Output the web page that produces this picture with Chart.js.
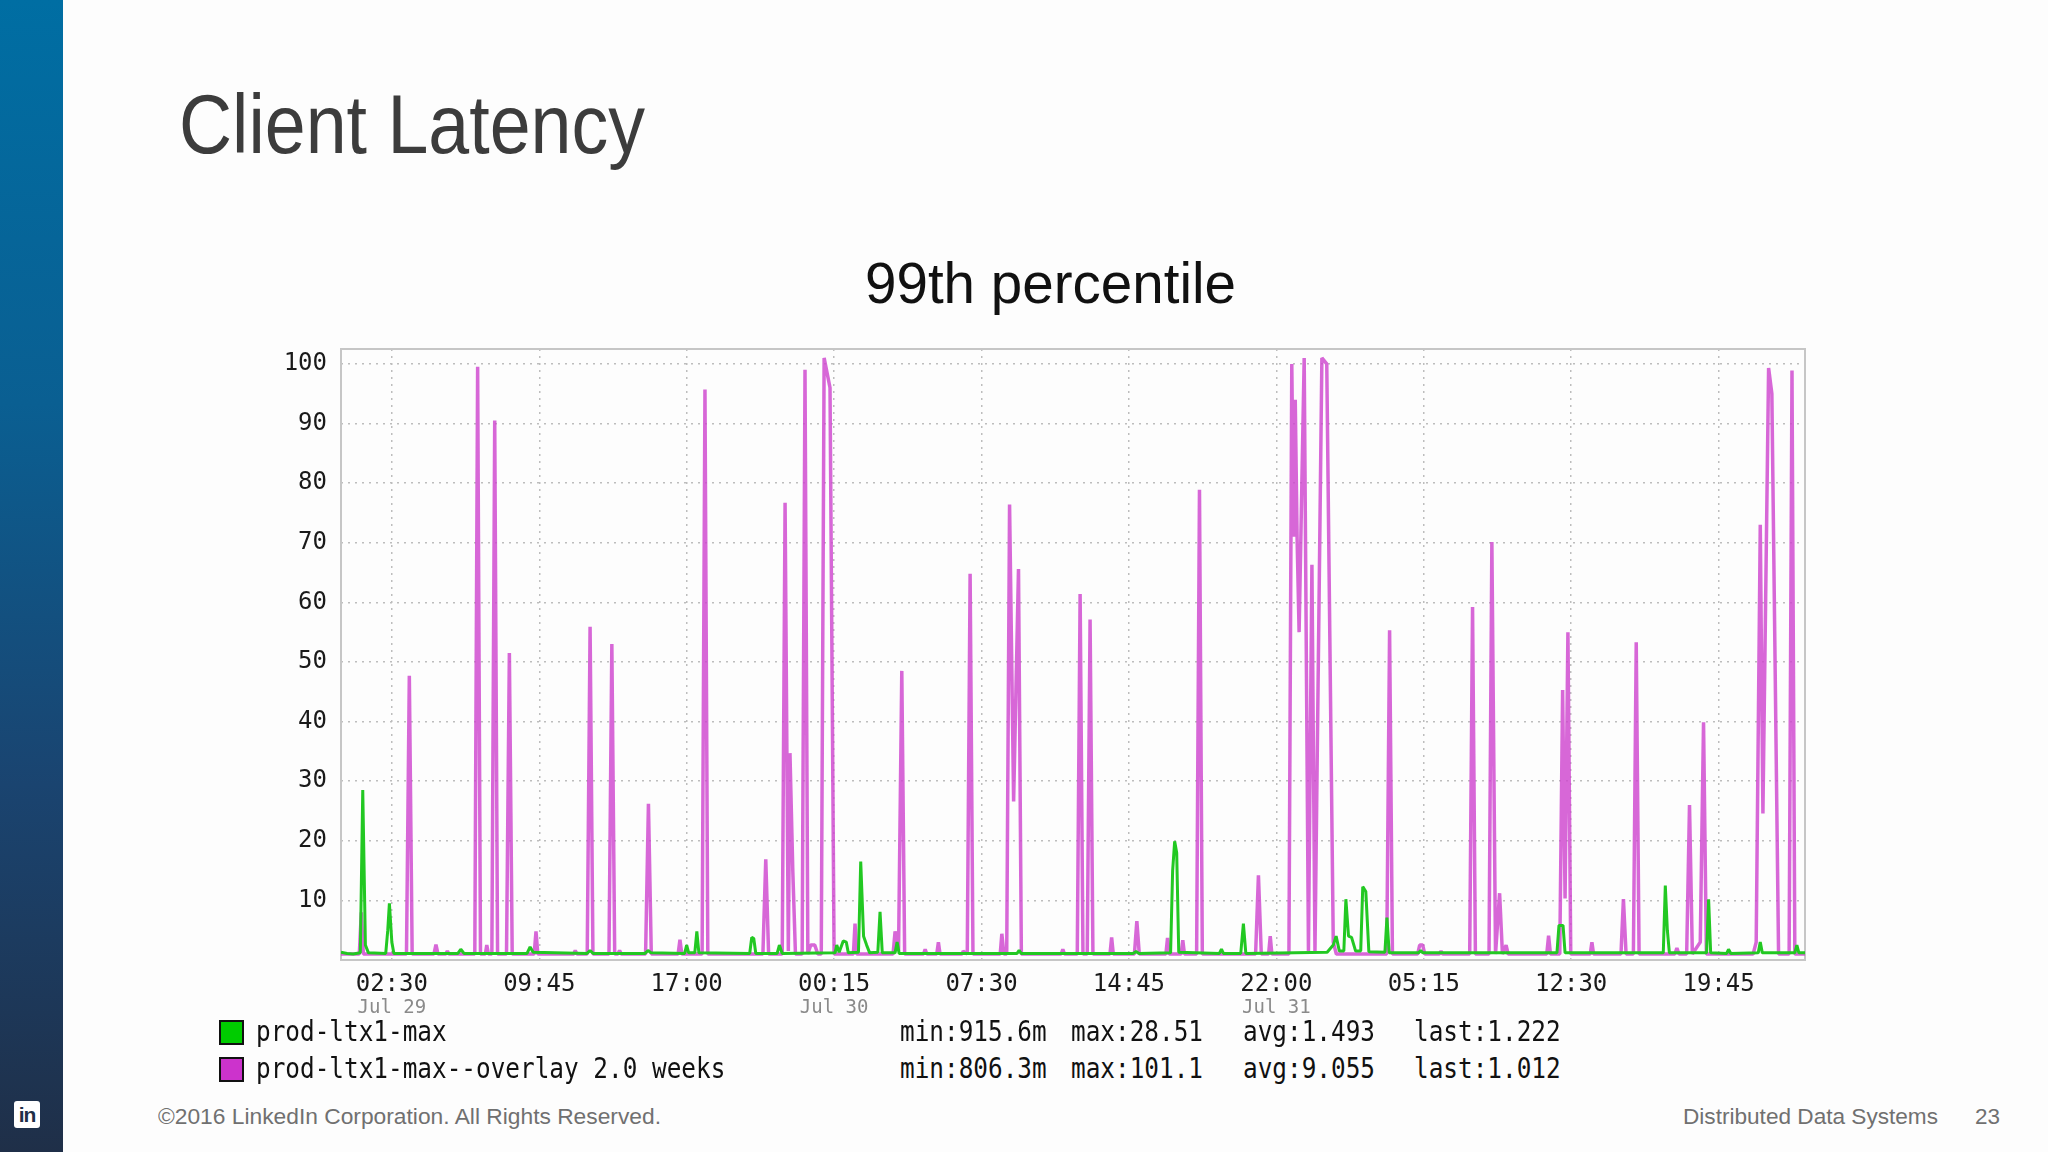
<!DOCTYPE html>
<html>
<head>
<meta charset="utf-8">
<title>Client Latency</title>
<script src="https://cdn.jsdelivr.net/npm/chart.js@4.4.1/dist/chart.umd.min.js"></script>
<style>
  html, body { margin: 0; padding: 0; }
  body {
    width: 2048px; height: 1152px; overflow: hidden; position: relative;
    background: #fdfdfd; font-family: 'Liberation Sans', Arial, sans-serif;
  }
  .strip {
    position: absolute; left: 0; top: 0; width: 63px; height: 1152px;
    background: linear-gradient(180deg, #006ea3 0%, #0a5f92 35%, #1a4470 68%, #1f2f48 100%);
  }
  .logo {
    position: absolute; left: 14px; top: 1101px; width: 26px; height: 27px;
    background: #fff; border-radius: 3px; color: #1f2f48;
    font: bold 21px 'Liberation Sans', Arial, sans-serif; line-height: 28px;
    text-align: center; letter-spacing: -1px;
  }
  .txt { position: absolute; white-space: nowrap; transform-origin: 0 0; line-height: 1; }
  .mono { font-family: 'DejaVu Sans Mono', monospace; font-size: 29px; color: #111; }
  .swatch { position: absolute; width: 21px; height: 21px; border: 2px solid #111; }
  #chartBox { position: absolute; left: 200px; top: 330px; width: 1625px; height: 720px; }
</style>
</head>
<body>
<div class="strip"></div>
<div class="logo">in</div>
<div id="title" class="txt" style="left:179px; top:82px; font-size:84px; color:#3c3c3c;">Client Latency</div>
<div id="subtitle" class="txt" style="top:254px; font-size:58px; color:#111;">99th percentile</div>
<div id="chartBox"><canvas id="latencyChart"></canvas></div>
<div id="legend"></div>
<div id="foot1" class="txt" style="left:158px; top:1106px; font-size:22px; color:#707070;">©2016 LinkedIn Corporation. All Rights Reserved.</div>
<div id="foot2" class="txt" style="left:1683px; top:1106px; font-size:22px; color:#707070;">Distributed Data Systems</div>
<div id="foot3" class="txt" style="left:1975px; top:1106px; font-size:22px; color:#707070;">23</div>

<script>
// x axis: hours since Jul 29 00:00
const timeTickHours = [2.5, 9.75, 17, 24.25, 31.5, 38.75, 46, 53.25, 60.5, 67.75];
const timeTickLabels = ['02:30', '09:45', '17:00', '00:15', '07:30', '14:45', '22:00', '05:15', '12:30', '19:45'];
const dateTickHours = [2.5, 24.25, 46];
const dateTickLabels = ['Jul 29', 'Jul 30', 'Jul 31'];
const yTicks = [10, 20, 30, 40, 50, 60, 70, 80, 90, 100];

const seriesNames = ['prod-ltx1-max', 'prod-ltx1-max--overlay 2.0 weeks'];
const seriesColors = ['#00cc00', '#cc33cc'];
const greenStats = ['min:915.6m', 'max:28.51', 'avg:1.493', 'last:1.222'];
const purpleStats = ['min:806.3m', 'max:101.1', 'avg:9.055', 'last:1.012'];

// prod-ltx1-max
const greenHours = [
  0, 0.3, 0.6, 0.95, 1.07, 1.2, 1.35, 2.2, 2.3, 2.38, 2.5, 2.6,
  5.75, 5.89, 6.05, 9.15, 9.3, 9.45, 12.1, 12.25, 12.4, 14.95, 15.1, 15.25,
  16.9, 17.0, 17.1, 17.4, 17.5, 17.6, 20.1, 20.2, 20.3, 20.4, 21.45, 21.56, 21.7,
  24.3, 24.38, 24.5, 24.7, 24.85, 24.95, 25.45, 25.56, 25.7, 25.85, 26.0,
  26.4, 26.51, 26.62, 27.25, 27.35, 27.45, 33.25, 33.35, 33.45, 38.95, 39.1, 39.25,
  40.8, 40.9, 41.0, 41.1, 41.2, 43.2, 43.3, 43.4, 44.25, 44.38, 44.5,
  48.5, 48.8, 48.94, 49.1, 49.32, 49.42, 49.55, 49.7, 49.9, 50.15, 50.25, 50.4, 50.55,
  51.34, 51.44, 51.55, 53.0, 53.1, 53.2, 59.8, 59.9, 60.1, 60.2,
  65.03, 65.13, 65.23, 65.33, 67.16, 67.26, 67.36, 68.15, 68.24, 68.35,
  69.7, 69.8, 69.9, 71.5, 71.6, 71.7, 72
];
const greenValues = [
  1.3, 1.1, 1.0, 1.2, 28.5, 2.5, 1.2, 1.1, 5, 9.5, 3, 1.1,
  1.1, 1.8, 1.1, 1.1, 2.2, 1.3, 1.1, 1.6, 1.1, 1.1, 1.6, 1.2,
  1.1, 2.5, 1.2, 1.2, 4.8, 1.2, 1.1, 3.8, 3.6, 1.1, 1.1, 2.5, 1.1,
  1.2, 2.5, 1.3, 3.2, 3.0, 1.2, 1.3, 16.5, 4, 2.5, 1.2,
  1.3, 8.1, 1.2, 1.2, 3, 1.1, 1.1, 1.6, 1.1, 1.1, 1.4, 1.1,
  1.2, 15, 19.9, 18, 1.3, 1.1, 1.8, 1.1, 1.1, 6.1, 1.1,
  1.3, 2.5, 4, 1.5, 1.5, 10.2, 4, 3.8, 1.5, 1.5, 12.3, 11.5, 1.4,
  1.3, 7.1, 1.2, 1.2, 1.6, 1.2, 1.2, 5.8, 5.8, 1.2,
  1.2, 12.5, 5, 1.2, 1.2, 10.2, 1.2, 1.1, 1.8, 1.1,
  1.2, 3, 1.2, 1.2, 2.5, 1.2, 1.2
];

// prod-ltx1-max--overlay 2.0 weeks
const purpleHours = [
  0, 0.9, 1.0, 1.1, 3.22, 3.36, 3.5, 4.57, 4.67, 4.77, 5.15, 5.23, 5.31,
  6.58, 6.72, 6.86, 7.1, 7.17, 7.25, 7.42, 7.56, 7.7, 8.14, 8.28, 8.42,
  9.5, 9.59, 9.68, 11.45, 11.52, 11.6, 12.11, 12.25, 12.39, 13.18, 13.32, 13.46,
  13.62, 13.7, 13.78, 14.98, 15.12, 15.26, 16.58, 16.67, 16.76, 17.76, 17.9, 18.04,
  20.75, 20.89, 21.03, 21.7, 21.84, 22.0, 22.08, 22.22, 22.35,
  22.68, 22.82, 22.96, 23.1, 23.3, 23.45, 23.62, 23.76, 24.05, 24.25,
  25.2, 25.28, 25.36, 27.15, 27.25, 27.42, 27.58, 27.72,
  28.65, 28.73, 28.81, 29.3, 29.38, 29.46, 30.55, 30.6, 30.8, 30.94, 31.08,
  32.42, 32.5, 32.6, 32.74, 32.88, 33.08, 33.32, 33.46,
  35.42, 35.5, 35.58, 36.21, 36.35, 36.49, 36.7, 36.84, 36.98,
  37.82, 37.9, 37.98, 39.02, 39.14, 39.26, 40.57, 40.65, 40.73, 41.32, 41.4, 41.48,
  42.08, 42.22, 42.36, 44.98, 45.12, 45.26, 45.62, 45.7, 45.78,
  46.62, 46.76, 46.85, 46.93, 47.02, 47.12, 47.37, 47.58, 47.75, 47.9, 48.24, 48.48, 48.8, 48.95,
  51.43, 51.57, 51.71, 52.95, 53.05, 53.2, 53.3, 54.02, 54.1, 54.18,
  55.51, 55.65, 55.79, 56.46, 56.6, 56.78, 56.98, 57.12, 57.3, 57.4,
  59.3, 59.39, 59.48, 59.94, 60.08, 60.2, 60.34, 60.48, 61.44, 61.52, 61.6,
  62.95, 63.07, 63.2, 63.56, 63.7, 63.84, 65.6, 65.7, 65.8,
  66.18, 66.32, 66.46, 66.85, 67.01, 67.15,
  69.45, 69.6, 69.8, 69.93, 70.21, 70.37, 70.7, 71.22, 71.36, 71.5, 72
];
const purpleValues = [
  1.0, 1.0, 8, 1.0, 1.0, 47.7, 1.0, 1.0, 2.6, 1.0, 1.0, 1.5, 1.0,
  1.0, 99.5, 1.0, 1.0, 2.5, 1.0, 1.0, 90.5, 1.0, 1.0, 51.5, 1.0,
  1.0, 4.8, 1.0, 1.0, 1.6, 1.0, 1.0, 55.9, 1.0, 1.0, 53, 1.0,
  1.0, 1.6, 1.0, 1.0, 26.2, 1.0, 1.0, 3.4, 1.0, 1.0, 95.7, 1.0,
  1.0, 16.9, 1.0, 1.0, 76.7, 1.5, 34.7, 14.9, 1.0,
  1.0, 99, 1.0, 2.5, 2.5, 1.0, 1.0, 101, 96, 1.0,
  1.0, 6.1, 1.0, 1.0, 4.8, 1.5, 48.5, 1.0,
  1.0, 1.8, 1.0, 1.0, 3, 1.0, 1.0, 1.5, 1.0, 64.8, 1.0,
  1.0, 4.4, 1.0, 1.0, 76.4, 26.6, 65.6, 1.0,
  1.0, 1.8, 1.0, 1.0, 61.4, 1.0, 1.0, 57.1, 1.0,
  1.0, 3.8, 1.0, 1.0, 6.5, 1.0, 1.0, 3.7, 1.0, 1.0, 3.3, 1.0,
  1.0, 78.9, 1.0, 1.0, 14.2, 1.0, 1.0, 4, 1.0,
  1.0, 100, 71, 94, 71, 55, 101, 1.5, 66.3, 1.5, 101, 100, 3, 1.0,
  1.0, 55.3, 1.0, 1.0, 2.5, 2.5, 1.0, 1.0, 1.5, 1.0,
  1.0, 59.2, 1.0, 1.0, 70.1, 1.0, 11.2, 1.0, 2.5, 1.0,
  1.0, 4.1, 1.0, 1.0, 45.3, 10.3, 55, 1.0, 1.0, 3, 1.0,
  1.0, 10.2, 1.0, 1.0, 53.3, 1.0, 1.0, 2, 1.0,
  1.0, 26, 1.0, 3, 39.9, 1.0,
  1.0, 3, 73, 24.6, 99.3, 95, 1.0, 1.0, 98.9, 1.0, 1.0
];

// squeeze a text element horizontally to the width seen in the slide
function squeeze(el, width) {
  const natural = el.getBoundingClientRect().width;
  el.style.transform = 'scaleX(' + (width / natural) + ')';
}

function buildLegend() {
  const legend = document.getElementById('legend');
  const rowsTop = [1017, 1054];
  const swatchTop = [1020, 1057];
  const statLeft = [900, 1071, 1243, 1414];
  const stats = [greenStats, purpleStats];
  seriesNames.forEach((name, i) => {
    const sw = document.createElement('div');
    sw.className = 'swatch';
    sw.style.left = '219px';
    sw.style.top = swatchTop[i] + 'px';
    sw.style.background = seriesColors[i];
    legend.appendChild(sw);

    const label = document.createElement('div');
    label.className = 'txt mono';
    label.style.left = '256px';
    label.style.top = rowsTop[i] + 'px';
    label.style.transform = 'scaleX(0.84)';
    label.textContent = name;
    legend.appendChild(label);

    stats[i].forEach((s, j) => {
      const st = document.createElement('div');
      st.className = 'txt mono';
      st.style.left = statLeft[j] + 'px';
      st.style.top = rowsTop[i] + 'px';
      st.style.transform = 'scaleX(0.84)';
      st.textContent = s;
      legend.appendChild(st);
    });
  });
}

function toPoints(xs, ys) {
  return xs.map((x, i) => ({ x: x, y: ys[i] }));
}

// grey frame around the plot area
const framePlugin = {
  id: 'frame',
  beforeDatasetsDraw(chart) {
    const a = chart.chartArea;
    const ctx = chart.ctx;
    ctx.save();
    ctx.strokeStyle = '#c6c6c6';
    ctx.lineWidth = 2;
    ctx.strokeRect(a.left, a.top, a.right - a.left, a.bottom - a.top);
    ctx.restore();
  }
};

function createChart() {
  const ctx = document.getElementById('latencyChart').getContext('2d');
  const tickFont = { family: 'DejaVu Sans Mono', size: 24 };

  new Chart(ctx, {
    type: 'line',
    data: {
      datasets: [{
        label: seriesNames[0],
        data: toPoints(greenHours, greenValues),
        borderColor: '#22c822',
        borderWidth: 3,
        pointRadius: 0,
        tension: 0,
        borderJoinStyle: 'bevel'
      }, {
        label: seriesNames[1],
        data: toPoints(purpleHours, purpleValues),
        borderColor: 'rgba(206, 70, 206, 0.82)',
        borderWidth: 3.5,
        pointRadius: 0,
        tension: 0,
        borderJoinStyle: 'bevel'
      }]
    },
    options: {
      responsive: true,
      maintainAspectRatio: false,
      animation: false,
      layout: { padding: { top: 19, right: 20, left: 0, bottom: 25 } },
      plugins: {
        legend: { display: false },
        tooltip: { enabled: false }
      },
      scales: {
        x: {
          type: 'linear',
          min: 0,
          max: 72,
          afterBuildTicks: scale => { scale.ticks = timeTickHours.map(v => ({ value: v })); },
          afterFit: scale => { scale.height = 35; scale.paddingLeft = 0; scale.paddingRight = 0; },
          ticks: {
            callback: (value, index) => timeTickLabels[index],
            autoSkip: false,
            maxRotation: 0,
            padding: 10,
            color: '#1a1a1a',
            font: tickFont
          },
          grid: { color: '#bdbdbd', lineWidth: 1.5, drawTicks: false },
          border: { display: false, dash: [2, 5] }
        },
        x2: {
          type: 'linear',
          position: 'bottom',
          axis: 'x',
          min: 0,
          max: 72,
          afterBuildTicks: scale => { scale.ticks = dateTickHours.map(v => ({ value: v })); },
          afterFit: scale => { scale.height = 30; scale.paddingLeft = 0; scale.paddingRight = 0; },
          ticks: {
            callback: (value, index) => dateTickLabels[index],
            autoSkip: false,
            maxRotation: 0,
            padding: 2,
            color: '#8a8a8a',
            font: { family: 'DejaVu Sans Mono', size: 19 }
          },
          grid: { display: false, drawTicks: false },
          border: { display: false }
        },
        y: {
          min: 0,
          max: 102.5,
          afterBuildTicks: scale => { scale.ticks = yTicks.map(v => ({ value: v })); },
          afterFit: scale => { scale.width = 141; scale.paddingTop = 0; scale.paddingBottom = 0; },
          ticks: {
            padding: 14,
            color: '#1a1a1a',
            font: tickFont
          },
          grid: { color: '#bdbdbd', lineWidth: 1.5, drawTicks: false },
          border: { display: false, dash: [2, 5] }
        }
      }
    },
    plugins: [framePlugin]
  });
}

document.addEventListener('DOMContentLoaded', () => {
  squeeze(document.getElementById('title'), 466);
  const sub = document.getElementById('subtitle');
  sub.style.left = (1050 - 371 / 2) + 'px';
  squeeze(sub, 371);
  squeeze(document.getElementById('foot1'), 503);
  squeeze(document.getElementById('foot2'), 255);
  squeeze(document.getElementById('foot3'), 25);
  buildLegend();
  createChart();
});
</script>
</body>
</html>
